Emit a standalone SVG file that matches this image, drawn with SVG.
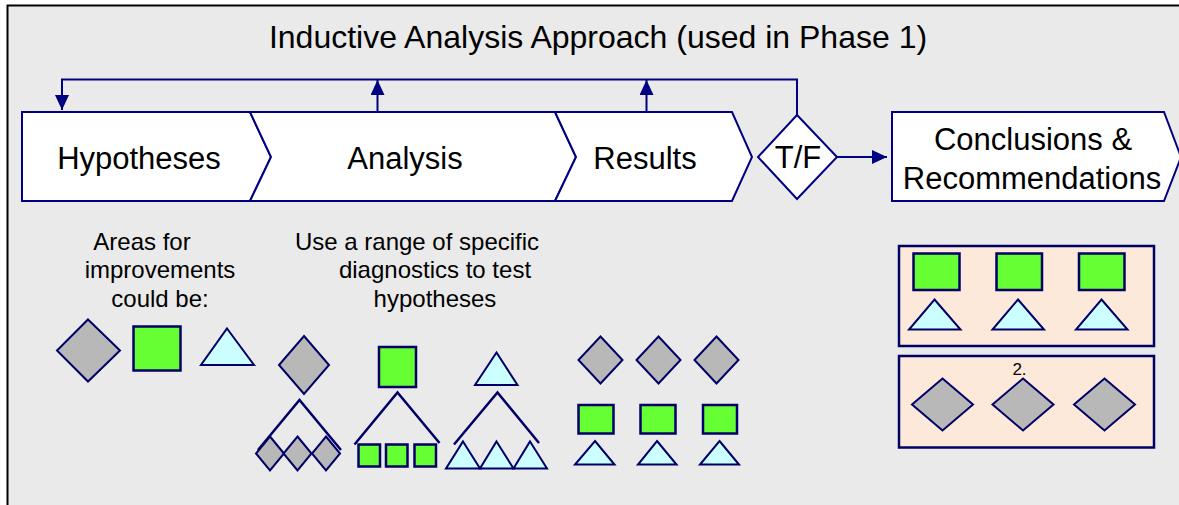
<svg xmlns="http://www.w3.org/2000/svg" width="1179" height="505" viewBox="0 0 1179 505">
<defs>
<style>
.t{font-family:"Liberation Sans",Arial,sans-serif;fill:#000;text-anchor:middle}
.big{font-size:31px}
.title{font-size:32px}
.mid{font-size:24px}
.sm{font-size:17px}
.chev{fill:#fff;stroke:#000080;stroke-width:2}
.conn{fill:none;stroke:#000080;stroke-width:2}
.g{fill:#B8B8B8;stroke:#000066;stroke-width:2}
.q{fill:#66FF33;stroke:#000066;stroke-width:2.5}
.c{fill:#CCFFFF;stroke:#000066;stroke-width:2}
.line{fill:none;stroke:#000066;stroke-width:2.5}
.panel{fill:#FDE9D9;stroke:#000066;stroke-width:2.5}
</style>
<marker id="ah" markerUnits="userSpaceOnUse" markerWidth="15" markerHeight="14" refX="15" refY="7" orient="auto">
<path d="M0,0 L15,7 L0,14 z" fill="#000080"/>
</marker>
</defs>
<rect x="0" y="0" width="1179" height="505" fill="#fff"/>
<rect x="7.5" y="5.5" width="1200" height="600" fill="#EAEAEA" stroke="#000" stroke-width="2"/>
<text class="t title" x="598" y="48">Inductive Analysis Approach (used in Phase 1)</text>

<g id="hypotheses">
<polygon class="chev" points="22,112 250,112 271,157 250,201 22,201"/>
<text class="t big" x="139" y="169">Hypotheses</text>
</g>
<g id="analysis">
<polygon class="chev" points="250,112 555,112 576,157 555,201 250,201 271,157"/>
<text class="t big" x="405" y="169">Analysis</text>
</g>
<g id="results">
<polygon class="chev" points="555,112 732,112 752,157 732,201 555,201 576,157"/>
<text class="t big" x="645" y="169">Results</text>
</g>
<g id="tf">
<polygon class="chev" points="797,115 837,157 797,199 758,157"/>
<text class="t big" x="798" y="168">T/F</text>
</g>
<g id="conclusions">
<polygon class="chev" points="892,112 1164,112 1181,157 1164,201 892,201"/>
<text class="t big" x="1033" y="150">Conclusions &amp;</text>
<text class="t big" x="1032" y="189">Recommendations</text>
</g>

<g id="connectors">
<polyline class="conn" points="797,115 797,79.5 62,79.5 62,110" marker-end="url(#ah)"/>
<line class="conn" x1="377.5" y1="112" x2="377.5" y2="80" marker-end="url(#ah)"/>
<line class="conn" x1="646.5" y1="112" x2="646.5" y2="80" marker-end="url(#ah)"/>
<line class="conn" x1="837" y1="157" x2="887" y2="157" marker-end="url(#ah)"/>
</g>

<g id="areas">
<text class="t mid" x="142" y="250">Areas for</text>
<text class="t mid" x="160" y="278">improvements</text>
<text class="t mid" x="160" y="307">could be:</text>
<polygon class="g" points="88,319.5 120,350.5 88,381.5 57,350.5"/>
<rect class="q" x="133.5" y="326.5" width="47" height="44"/>
<polygon class="c" points="227,328.5 254,365 201,365"/>
</g>

<g id="diagnostics">
<text class="t mid" x="417" y="250">Use a range of specific</text>
<text class="t mid" x="435" y="278">diagnostics to test</text>
<text class="t mid" x="435" y="307">hypotheses</text>
<polygon class="g" points="304,336 329,365 304,394 279,365"/>
<polyline class="line" points="258,450 299.5,400 341,450"/>
<polygon class="g" points="270,436.5 284,453.5 270,470.5 256,453.5"/>
<polygon class="g" points="297.5,436.5 311.5,453.5 297.5,470.5 283.5,453.5"/>
<polygon class="g" points="326,436.5 340,453.5 326,470.5 312,453.5"/>

<rect class="q" x="379" y="347" width="37" height="40"/>
<polyline class="line" points="354.5,444.5 397.5,392.5 439.5,443"/>
<rect class="q" x="358.5" y="444.5" width="21.5" height="22"/>
<rect class="q" x="386" y="444.5" width="21.5" height="22"/>
<rect class="q" x="414.5" y="444.5" width="21.5" height="22"/>

<polygon class="c" points="496.5,352.5 517.5,385 475,385"/>
<polyline class="line" points="454,444.5 497.5,392.5 539,443"/>
<polygon class="c" points="463,441.5 480,468.5 446,468.5"/>
<polygon class="c" points="496.5,441.5 513.5,468.5 480,468.5"/>
<polygon class="c" points="530,441.5 547,468.5 513.5,468.5"/>
</g>

<g id="results-shapes">
<polygon class="g" points="600.5,336.5 622.5,360 600.5,383.5 578.5,360"/>
<polygon class="g" points="658.5,336.5 680.5,360 658.5,383.5 636.5,360"/>
<polygon class="g" points="716.5,336.5 738.5,360 716.5,383.5 694.5,360"/>
<rect class="q" x="578.5" y="405" width="35" height="28.5"/>
<rect class="q" x="640.5" y="405" width="35" height="28.5"/>
<rect class="q" x="703" y="405" width="34" height="28.5"/>
<polygon class="c" points="595,441 614.5,464.5 575,464.5"/>
<polygon class="c" points="657,441 676.5,464.5 638,464.5"/>
<polygon class="c" points="719.5,441 739,464.5 700,464.5"/>
</g>

<g id="panel1">
<rect class="panel" x="899" y="246" width="255" height="100"/>
<rect class="q" x="913.5" y="253.5" width="46" height="36.5"/>
<rect class="q" x="996.5" y="253.5" width="45.5" height="36.5"/>
<rect class="q" x="1079" y="253.5" width="45.5" height="36.5"/>
<polygon class="c" points="934.5,299.5 960.5,329.5 909,329.5"/>
<polygon class="c" points="1018,299.5 1044,329.5 992.5,329.5"/>
<polygon class="c" points="1101.5,299.5 1127.5,329.5 1076,329.5"/>
</g>

<g id="panel2">
<rect class="panel" x="899" y="356" width="255" height="91.5"/>
<text class="t sm" x="1019.5" y="375">2.</text>
<polygon class="g" points="942.5,378.5 973,404.5 942.5,430.5 912,404.5"/>
<polygon class="g" points="1023,378.5 1053.5,404.5 1023,430.5 992.5,404.5"/>
<polygon class="g" points="1104.5,378.5 1135,404.5 1104.5,430.5 1074,404.5"/>
</g>
</svg>
